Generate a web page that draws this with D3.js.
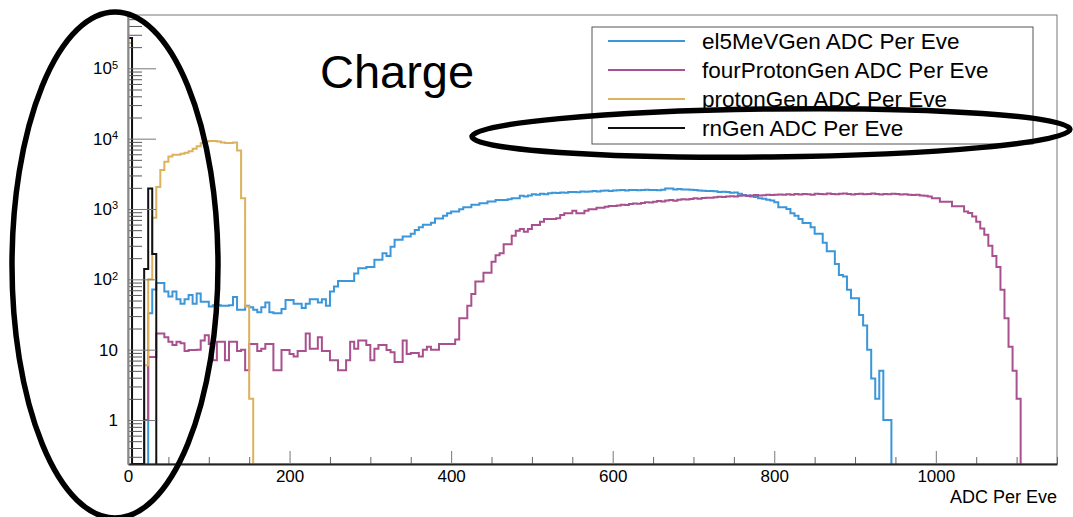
<!DOCTYPE html>
<meta charset="utf-8">
<html>
<head>
<!-- Load d3.js -->
<script src="https://cdn.jsdelivr.net/npm/d3@7"></script>
<style>
body {
  margin: 0;
  background-color: #ffffff;
}
text {
  font-family: 'Liberation Sans', Arial, Helvetica, sans-serif;
  fill: #000;
}
.hist {
  fill: none;
  stroke-width: 2px;
  stroke-linejoin: miter;
}
</style>
</head>
<body>
<div id="my_dataviz"></div>

<script>

// ---- data (bin contents) ----
var binWidth = 5;   // ADC units per bin

var seriesNames = ["el5MeVGen ADC Per Eve", "fourProtonGen ADC Per Eve",
                   "protonGen ADC Per Eve", "rnGen ADC Per Eve"];

// el5MeVGen : first bin starts at 25
var el5Start = 25;
var el5Values = [33, 72, 89, 89, 67, 57, 67, 52, 45, 52, 60, 45, 63, 48, 48, 41, 43, 43, 42, 42,
  43, 56, 37, 37, 42, 40, 37, 34, 40, 47, 34, 33, 33, 38, 51, 51, 45, 45, 39, 45,
  52, 52, 47, 52, 42, 67, 79, 95, 95, 95, 95, 121, 144, 144, 150, 150, 190, 190, 235, 215,
  290, 365, 365, 405, 405, 445, 505, 550, 595, 595, 640, 735, 735, 800, 870, 920, 920, 990, 1060, 1060,
  1150, 1150, 1210, 1210, 1280, 1280, 1340, 1340, 1340, 1380, 1420, 1420, 1540, 1500, 1560, 1620, 1600, 1650, 1620, 1680,
  1700, 1690, 1720, 1700, 1740, 1750, 1730, 1780, 1760, 1780, 1800, 1780, 1820, 1840, 1800, 1830, 1850, 1860, 1840, 1860,
  1870, 1850, 1860, 1880, 1860, 1870, 1850, 1880, 1950, 1960, 1900, 1920, 1900, 1890, 1880, 1860, 1830, 1820, 1800, 1800,
  1790, 1750, 1760, 1740, 1700, 1720, 1650, 1580, 1560, 1500, 1480, 1420, 1400, 1350, 1320, 1250, 1060, 1060, 1000, 870,
  800, 720, 630, 630, 550, 445, 445, 330, 250, 250, 165, 115, 110, 71, 54, 54, 31, 22, 10, 3.9,
  2, 5, 1, 1];

// fourProtonGen : first bin starts at 20
var fourStart = 20;
var fourValues = [1, 7.9, 7.9, 17, 17, 15, 13, 11.7, 13, 12.3, 9.6, 9.9, 9.9, 10, 13.5, 16, 12, 7.1, 13, 13,
  7.1, 13, 13, 9.6, 10, 5.1, 12, 12, 9.6, 10.3, 12, 12, 5.1, 5.1, 9.9, 9.9, 8.7, 8, 9.6, 9.6,
  17, 10.3, 10.3, 15, 9.6, 9.6, 7.1, 7.1, 5.1, 5.1, 7.1, 13, 10.3, 13.5, 13.5, 11.7, 7.1, 10.3, 11.7, 11.7,
  9.9, 9.2, 6.7, 6.7, 13.5, 8.7, 9, 9, 8, 10, 11, 10, 10, 12, 12, 12, 12, 14, 28, 28,
  42, 62, 93, 93, 124, 124, 178, 220, 235, 315, 315, 415, 490, 520, 475, 520, 590, 590, 660, 720,
  720, 720, 740, 820, 870, 870, 945, 870, 870, 945, 990, 990, 1040, 1040, 1080, 1100, 1100, 1120, 1150, 1140,
  1180, 1200, 1190, 1220, 1250, 1240, 1270, 1300, 1280, 1320, 1340, 1310, 1350, 1380, 1360, 1390, 1420, 1400, 1430, 1450,
  1440, 1470, 1490, 1480, 1500, 1520, 1510, 1540, 1560, 1530, 1560, 1580, 1550, 1570, 1600, 1580, 1590, 1610, 1600, 1620,
  1590, 1630, 1610, 1640, 1620, 1600, 1650, 1630, 1620, 1660, 1640, 1620, 1650, 1660, 1630, 1610, 1640, 1650, 1620, 1640,
  1660, 1630, 1610, 1640, 1620, 1650, 1630, 1610, 1620, 1600, 1580, 1600, 1560, 1540, 1500, 1420, 1420, 1270, 1270, 1270,
  1090, 1090, 1090, 920, 880, 780, 660, 530, 430, 300, 215, 150, 71, 28, 11, 5, 2];

// protonGen : first bin starts at 0
var protonStart = 0;
var protonValues = [230000, 0, 0, 0, 6, 100, 750, 2050, 3600, 4700, 5600, 5900, 5900, 6100, 6300, 6600,
  7200, 7800, 8700, 9100, 9300, 9300, 9100, 8800, 8700, 8700, 8800, 6800, 1420, 41, 2];

// rnGen : first bin starts at 0
var rnStart = 0;
var rnValues = [270000, 0, 0, 0, 140, 1950, 230];

// axis ticks
var xMajorTicks = [0, 200, 400, 600, 800, 1000];
var yMajorTicks = [1, 10, 100, 1000, 10000, 100000];

// ---- layout ----
var margin = {top: 15, right: 16, bottom: 53, left: 128},
    width = 1073 - margin.left - margin.right,
    height = 517 - margin.top - margin.bottom;

var colors = ["#3b96da", "#a9508f", "#dcb35c", "#111111"];

var svgRoot = d3.select("#my_dataviz")
  .append("svg")
    .attr("width", width + margin.left + margin.right)
    .attr("height", height + margin.top + margin.bottom)
    .style("display", "block");

var svg = svgRoot.append("g")
    .attr("transform", "translate(" + margin.left + "," + margin.top + ")");

// scales
var x = d3.scaleLinear()
  .domain([0, 1150])
  .range([0, width]);

var y = d3.scaleLog()
  .domain([0.237, 573000])
  .range([height, 0])
  .clamp(true);

// clip for the histograms
svg.append("clipPath").attr("id", "frameClip")
  .append("rect").attr("width", width).attr("height", height);

// frame
svg.append("rect")
  .attr("width", width)
  .attr("height", height)
  .attr("fill", "none")
  .attr("stroke", "#777")
  .attr("stroke-width", 1);

// ---- histograms ----
function histPath(start, values) {
  var end = start + values.length * binWidth;
  var pts = [[start, 0]];
  values.forEach(function(v, i) { pts.push([start + i * binWidth, v]); });
  pts.push([end, values[values.length - 1]]);
  pts.push([end, 0]);
  return d3.line()
    .curve(d3.curveStepAfter)
    .x(function(d) { return x(d[0]); })
    .y(function(d) { return d[1] > 0 ? y(d[1]) : height; })(pts);
}

var hists = [
  {start: el5Start, values: el5Values},
  {start: fourStart, values: fourValues},
  {start: protonStart, values: protonValues},
  {start: rnStart, values: rnValues}
];

svg.append("g")
  .attr("clip-path", "url(#frameClip)")
  .selectAll("path")
  .data(hists)
  .enter()
  .append("path")
    .attr("class", "hist")
    .attr("stroke", function(d, i) { return colors[i]; })
    .attr("d", function(d) { return histPath(d.start, d.values); });

// ---- X axis ----
var xMinor = d3.range(0, 1151, 50).filter(function(v) { return v % 200 !== 0; });

var xMinorAxis = svg.append("g")
  .attr("transform", "translate(0," + height + ")")
  .call(d3.axisBottom(x).tickValues(xMinor).tickSize(-7).tickFormat(""));
xMinorAxis.select(".domain").remove();
xMinorAxis.selectAll("line").attr("stroke", "#666");

var xAxis = svg.append("g")
  .attr("transform", "translate(0," + height + ")")
  .call(d3.axisBottom(x).tickValues(xMajorTicks).tickFormat(d3.format("d"))
    .tickSizeInner(-13).tickSizeOuter(0).tickPadding(6));
xAxis.select(".domain").attr("stroke", "#222").attr("stroke-width", 2);
xAxis.selectAll(".tick line").attr("stroke", "#777");
xAxis.selectAll(".tick text").attr("font-size", "17px").attr("fill", "#000");

// X title
svg.append("text")
  .attr("x", width)
  .attr("y", height + 39)
  .attr("text-anchor", "end")
  .attr("font-size", "18px")
  .text("ADC Per Eve");

// ---- Y axis ----
var yMinor = [];
for (var e = -1; e <= 5; e++) {
  for (var k = 2; k <= 9; k++) {
    var v = k * Math.pow(10, e);
    if (v > y.domain()[0] && v < y.domain()[1]) yMinor.push(v);
  }
}

var yMinorAxis = svg.append("g")
  .call(d3.axisLeft(y).tickValues(yMinor).tickSize(-14).tickFormat(""));
yMinorAxis.select(".domain").remove();
yMinorAxis.selectAll("line").attr("stroke", "#555");

var yAxis = svg.append("g")
  .call(d3.axisLeft(y).tickValues(yMajorTicks).tickSizeInner(-28).tickSizeOuter(0).tickPadding(10));
yAxis.select(".domain").attr("stroke", "#888").attr("stroke-width", 2);
yAxis.selectAll(".tick line").attr("stroke", "#777");
yAxis.selectAll(".tick text")
  .attr("font-size", "17px")
  .attr("fill", "#000")
  .each(function(d) {
    var p = Math.round(Math.log10(d));
    var t = d3.select(this);
    t.text(null);
    if (p < 2) {
      t.text(d);
    } else {
      t.append("tspan").text("10");
      t.append("tspan").attr("dy", "-0.5em").attr("font-size", "11px").text(p);
    }
  });

// ---- title ----
svgRoot.append("text")
  .attr("x", 320)
  .attr("y", 88)
  .attr("font-size", "47px")
  .text("Charge");

// ---- legend ----
var legend = svgRoot.append("g").attr("transform", "translate(592,27)");
legend.append("rect")
  .attr("width", 441)
  .attr("height", 117)
  .attr("fill", "#fff")
  .attr("stroke", "#555")
  .attr("stroke-width", 1);

var entries = legend.selectAll(".entry")
  .data(seriesNames)
  .enter()
  .append("g")
    .attr("transform", function(d, i) { return "translate(0," + (14 + i * 29) + ")"; });

entries.append("line")
  .attr("x1", 16).attr("x2", 93)
  .attr("stroke-width", 2)
  .attr("stroke", function(d, i) { return colors[i]; });

entries.append("text")
  .attr("x", 110)
  .attr("y", 7.5)
  .attr("font-size", "22.5px")
  .text(function(d) { return d; });

// ---- hand-drawn annotation ellipses ----
svgRoot.append("ellipse")
  .attr("cx", 115).attr("cy", 265).attr("rx", 103).attr("ry", 253)
  .attr("fill", "none").attr("stroke", "#000").attr("stroke-width", 5.5);

svgRoot.append("ellipse")
  .attr("cx", 771).attr("cy", 133).attr("rx", 299).attr("ry", 24)
  .attr("transform", "rotate(-0.7,771,133)")
  .attr("fill", "none").attr("stroke", "#000").attr("stroke-width", 5.5);

</script>
</body>
</html>
